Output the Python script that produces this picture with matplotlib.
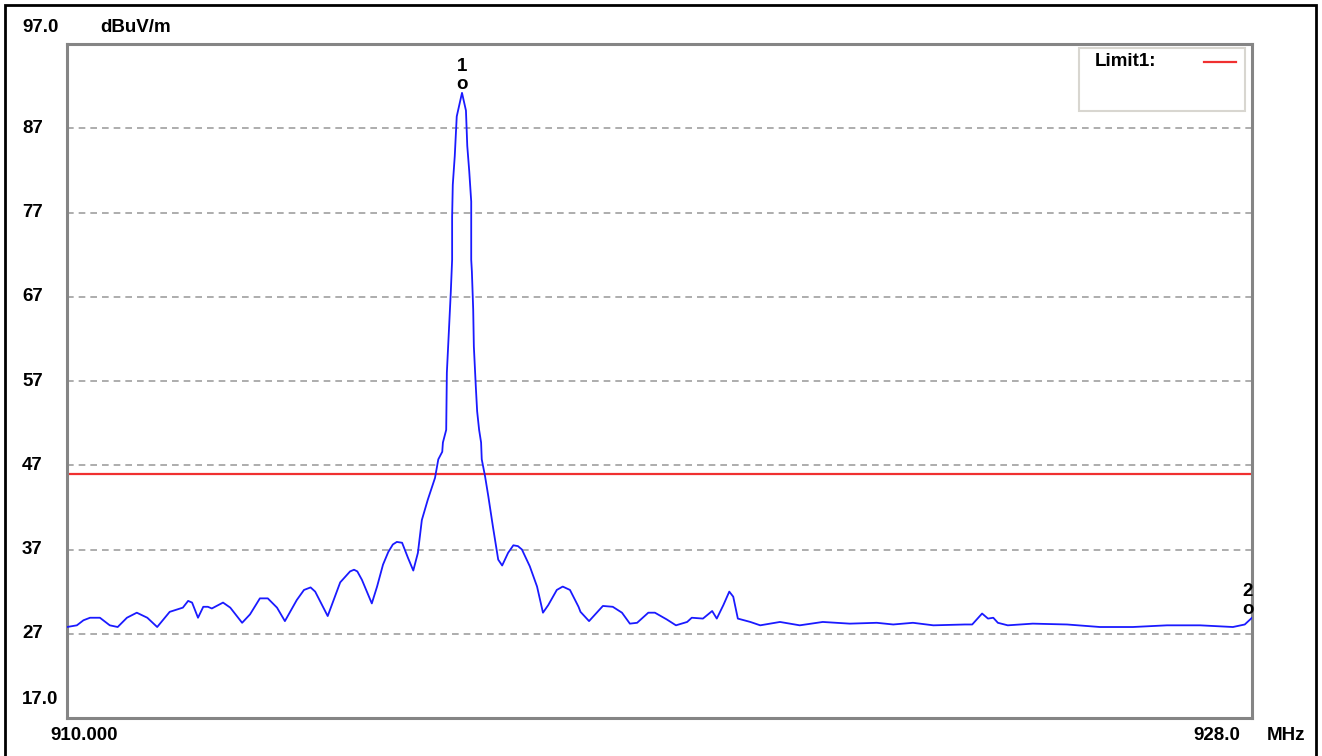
import matplotlib
matplotlib.use("Agg")
import matplotlib.pyplot as plt
import matplotlib.transforms as mtransforms
from matplotlib.patches import Rectangle

# spectrum trace
freq_mhz = [910.00, 910.15, 910.25, 910.35, 910.50, 910.65, 910.77, 910.91, 911.06, 911.22, 911.37,
            911.56, 911.76, 911.84, 911.90, 911.99, 912.07, 912.14, 912.20, 912.37, 912.48,
            912.66, 912.78, 912.93, 913.05, 913.19, 913.31, 913.49, 913.60, 913.70, 913.77, 913.96,
            914.15, 914.30, 914.36, 914.41, 914.48, 914.63, 914.71, 914.80, 914.88, 914.95, 915.01, 915.09,
            915.18, 915.26, 915.33, 915.39, 915.48, 915.59, 915.64, 915.70, 915.71, 915.76,
            915.77, 915.80, 915.83, 915.85, 915.85, 915.86, 915.89, 915.92, 916.00, 916.06,
            916.08, 916.11, 916.14, 916.14, 916.15, 916.17, 916.18, 916.21, 916.23, 916.26,
            916.29, 916.30, 916.35, 916.40, 916.47, 916.55, 916.61, 916.70, 916.78, 916.85, 916.91,
            917.03, 917.14, 917.23, 917.31, 917.44, 917.53, 917.64, 917.77, 917.80, 917.93,
            918.14, 918.29, 918.43, 918.55, 918.66, 918.83, 918.93, 919.11, 919.25, 919.42,
            919.49, 919.66, 919.80, 919.87, 919.97, 920.06, 920.12, 920.19, 920.38, 920.53,
            920.83, 921.13, 921.48, 921.89, 922.30, 922.55, 922.85, 923.16, 923.64, 923.75,
            923.90, 923.99, 924.07, 924.14, 924.29, 924.67, 925.19, 925.69, 926.19, 926.71,
            927.21, 927.71, 927.89, 928.00]
level_dbuv = [27.8, 28.0, 28.6, 28.9, 28.9, 28.0, 27.8, 28.9, 29.5, 28.9, 27.8,
              29.6, 30.1, 30.9, 30.7, 28.9, 30.2, 30.2, 30.0, 30.7, 30.1,
              28.3, 29.3, 31.2, 31.2, 30.1, 28.5, 31.0, 32.2, 32.5, 32.0, 29.1,
              33.1, 34.4, 34.6, 34.4, 33.4, 30.6, 32.6, 35.2, 36.7, 37.6, 37.9, 37.8,
              36.0, 34.5, 36.6, 40.5, 42.9, 45.5, 47.7, 48.6, 49.7, 51.2,
              58.0, 62.9, 67.6, 71.4, 76.5, 80.3, 83.7, 88.4, 91.2, 89.1,
              84.9, 81.9, 78.3, 71.4, 70.0, 65.5, 61.1, 56.3, 53.4, 51.2,
              49.7, 47.7, 45.7, 43.3, 39.7, 35.8, 35.1, 36.6, 37.5, 37.4, 37.0,
              35.0, 32.6, 29.5, 30.4, 32.2, 32.6, 32.2, 30.2, 29.6, 28.5,
              30.3, 30.2, 29.5, 28.2, 28.3, 29.5, 29.5, 28.7, 28.0, 28.4,
              28.9, 28.8, 29.7, 28.8, 30.4, 32.0, 31.4, 28.8, 28.4, 28.0,
              28.4, 28.0, 28.4, 28.2, 28.3, 28.1, 28.3, 28.0, 28.1, 28.1,
              29.4, 28.8, 28.9, 28.3, 28.0, 28.2, 28.1, 27.8, 27.8, 28.0,
              28.0, 27.8, 28.1, 28.9]

limit1 = 46.0
y_min, y_max = 17.0, 97.0
x_min, x_max = 910.0, 928.0
grid_levels = [27, 37, 47, 57, 67, 77, 87]
markers = [("1", 916.00, 91.2), ("2", 928.00, 28.9)]

W, H = 1322, 756
fig = plt.figure(figsize=(W / 100, H / 100), dpi=100)
fig.patch.set_facecolor("white")

# outer black frame (bottom edge falls off the image)
fig.patches.append(Rectangle((5 / W, -10 / H), 1311 / W, (H - 5 + 10) / H,
                             transform=fig.transFigure, fill=False,
                             edgecolor="black", linewidth=2.0))

ax = fig.add_axes([67 / W, 1 - 718 / H, 1185 / W, 674 / H])
ax.set_xlim(x_min, x_max)
ax.set_ylim(y_min, y_max)
ax.set_xticks([])
ax.set_yticks([])
for s in ax.spines.values():
    s.set_color("#858585")
    s.set_linewidth(2.2)

for g in grid_levels:
    ax.axhline(g, color="#a0a0a0", lw=1.2, ls=(0, (4, 3)), zorder=1)

ax.axhline(limit1, color="#f03030", lw=1.6, zorder=2)
ax.plot(freq_mhz, level_dbuv, color="#1a1aff", lw=1.3, zorder=3)

fnt = dict(family="Liberation Sans", fontweight="bold", fontsize=13.5, color="black")

# y labels
tr_y = mtransforms.blended_transform_factory(fig.transFigure, ax.transData)
for g in grid_levels:
    ax.text(22 / W, g, str(g), transform=tr_y, ha="left", va="center", **fnt)
fig.text(22 / W, 1 - 27 / H, "97.0", ha="left", va="center", **fnt)
fig.text(100 / W, 1 - 27 / H, "dBuV/m", ha="left", va="center", **fnt)
fig.text(22 / W, 1 - 699 / H, "17.0", ha="left", va="center", **fnt)

# x labels
fig.text(50 / W, 1 - 735 / H, "910.000", ha="left", va="center", **fnt)
fig.text(1240 / W, 1 - 735 / H, "928.0", ha="right", va="center", **fnt)
fig.text(1267 / W, 1 - 735 / H, "MHz", ha="left", va="center", **fnt)

# markers
for name, mx, my in markers:
    dx = -4 if mx >= x_max else 0
    ax.annotate("o", (mx, my), xytext=(dx, 8), textcoords="offset pixels",
                ha="center", va="center", annotation_clip=False, **fnt)
    ax.annotate(name, (mx, my), xytext=(dx, 26), textcoords="offset pixels",
                ha="center", va="center", annotation_clip=False, **fnt)

# legend box
fig.patches.append(Rectangle((1079 / W, 1 - 111 / H), 166 / W, 63 / H,
                             transform=fig.transFigure, fill=True, facecolor="white",
                             edgecolor="#d8d6d0", linewidth=1.5, zorder=5))
fig.text(1095 / W, 1 - 62 / H, "Limit1:", ha="left", va="center", zorder=6, **fnt)
fig.lines.append(plt.Line2D([1204 / W, 1236 / W], [1 - 62 / H, 1 - 62 / H],
                            transform=fig.transFigure, color="#f03030", lw=1.6, zorder=6))

fig.savefig("out.png", dpi=100)
